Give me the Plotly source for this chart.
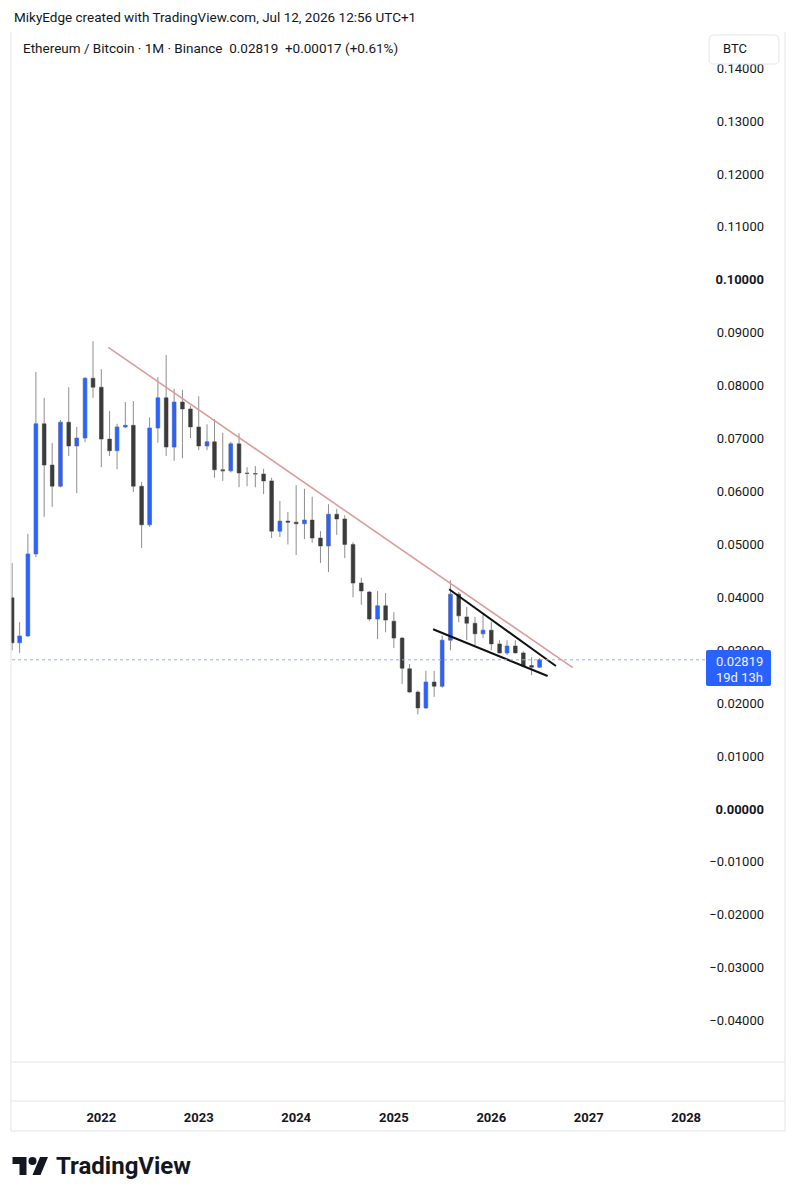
import plotly.graph_objects as go
import pandas as pd
from datetime import datetime, timedelta

# ---------------- data ----------------
months = pd.date_range("2021-02-01", periods=66, freq="MS")

opens = [
    0.0399, 0.0314, 0.0327, 0.0482, 0.0728, 0.0650, 0.0610, 0.0731, 0.0686, 0.0701, 0.0814,
    0.0797, 0.0699, 0.0677, 0.0722, 0.0725, 0.0610, 0.0537, 0.0720, 0.0777, 0.0684, 0.0769, 0.0756,
    0.0722, 0.0686, 0.0694, 0.0641, 0.0639, 0.0690, 0.0635, 0.0634, 0.0633, 0.0620, 0.0525, 0.0544,
    0.0542, 0.0539, 0.0546, 0.0512, 0.0497, 0.0557, 0.0548, 0.0500, 0.0427, 0.0410, 0.0359, 0.0384,
    0.0355, 0.0323, 0.0265, 0.0221, 0.0191, 0.0240, 0.0232, 0.0319, 0.0406, 0.0363, 0.0351, 0.0331,
    0.0338, 0.0312, 0.0295, 0.0308, 0.0295, 0.0271, 0.0268,
]
highs = [
    0.0465, 0.0353, 0.0520, 0.0826, 0.0777, 0.0692, 0.0735, 0.0797, 0.0722, 0.0816, 0.0884,
    0.0831, 0.0752, 0.0728, 0.0769, 0.0771, 0.0618, 0.0740, 0.0816, 0.0858, 0.0794, 0.0792, 0.0762,
    0.0780, 0.0727, 0.0737, 0.0711, 0.0694, 0.0710, 0.0646, 0.0648, 0.0643, 0.0626, 0.0582, 0.0561,
    0.0612, 0.0605, 0.0590, 0.0525, 0.0576, 0.0567, 0.0555, 0.0504, 0.0437, 0.0412, 0.0412, 0.0408,
    0.0372, 0.0325, 0.0274, 0.0224, 0.0261, 0.0261, 0.0328, 0.0432, 0.0410, 0.0382, 0.0363, 0.0367,
    0.0354, 0.0319, 0.0319, 0.0319, 0.0298, 0.0287, 0.0285,
]
lows = [
    0.0300, 0.0295, 0.0325, 0.0476, 0.0552, 0.0571, 0.0608, 0.0667, 0.0597, 0.0693, 0.0777,
    0.0646, 0.0667, 0.0642, 0.0720, 0.0599, 0.0493, 0.0533, 0.0692, 0.0667, 0.0658, 0.0663, 0.0701,
    0.0678, 0.0678, 0.0626, 0.0620, 0.0636, 0.0608, 0.0610, 0.0608, 0.0595, 0.0512, 0.0514, 0.0500,
    0.0480, 0.0510, 0.0503, 0.0465, 0.0448, 0.0518, 0.0474, 0.0400, 0.0386, 0.0355, 0.0321, 0.0334,
    0.0304, 0.0236, 0.0219, 0.0179, 0.0189, 0.0212, 0.0229, 0.0300, 0.0353, 0.0319, 0.0310, 0.0323,
    0.0300, 0.0294, 0.0291, 0.0294, 0.0268, 0.0253, 0.0267,
]
closes = [
    0.0314, 0.0327, 0.0482, 0.0728, 0.0650, 0.0610, 0.0731, 0.0686, 0.0701, 0.0814, 0.0797,
    0.0699, 0.0677, 0.0722, 0.0725, 0.0610, 0.0537, 0.0720, 0.0777, 0.0684, 0.0769, 0.0756, 0.0722,
    0.0686, 0.0694, 0.0641, 0.0639, 0.0690, 0.0635, 0.0634, 0.0633, 0.0620, 0.0525, 0.0544, 0.0542,
    0.0539, 0.0546, 0.0512, 0.0497, 0.0557, 0.0548, 0.0500, 0.0427, 0.0412, 0.0359, 0.0384, 0.0357,
    0.0323, 0.0266, 0.0221, 0.0191, 0.0240, 0.0232, 0.0319, 0.0406, 0.0365, 0.0351, 0.0331, 0.0338,
    0.0312, 0.0295, 0.0308, 0.0295, 0.0270, 0.0268, 0.02819,
]

year_ticks = ["2022-01-01", "2023-01-01", "2024-01-01", "2025-01-01",
              "2026-01-01", "2027-01-01", "2028-01-01"]
year_labels = ["2022", "2023", "2024", "2025", "2026", "2027", "2028"]
price_ticks = [-0.04, -0.03, -0.02, -0.01, 0.00, 0.01, 0.02, 0.03, 0.04, 0.05,
               0.06, 0.07, 0.08, 0.09, 0.10, 0.11, 0.12, 0.13, 0.14]
bold_ticks = [0.00, 0.10]

# drawn trend lines (date, price)
resistance_x = ["2022-01-27", "2026-11-02"]
resistance_y = [0.08725, 0.0267]
wedge_upper_x = ["2025-07-27", "2026-08-31"]
wedge_upper_y = [0.04152, 0.02702]
wedge_lower_x = ["2025-05-28", "2026-07-31"]
wedge_lower_y = [0.03396, 0.02513]

last_price = closes[-1]

# ---------------- layout geometry ----------------
W, H = 796, 1200
ML, MR, MT, MB = 11, 11, 32, 138
PW = W - ML - MR
PH = H - MT - MB


def px(x):
    return (x - ML) / PW


def py(y):
    return 1 - (y - MT) / PH


ref_date = datetime(2022, 1, 1)
ref_px = 101.3
px_per_day = 0.26694
x_left = ref_date + timedelta(days=(ML - ref_px) / px_per_day)
x_right = ref_date + timedelta(days=(W - MR - ref_px) / px_per_day)
y_bottom, y_top = -0.04781, 0.14683

UP = "#2962ff"
DOWN = "#3b3b3b"
WICK = "#8e8e8e"
TXT = "#131722"
BORDER = "#e0e3eb"

fig = go.Figure()

# wicks (gray)
fig.add_trace(go.Candlestick(
    x=months, open=opens, high=highs, low=lows, close=closes,
    increasing=dict(line=dict(color=WICK, width=1), fillcolor="rgba(0,0,0,0)"),
    decreasing=dict(line=dict(color=WICK, width=1), fillcolor="rgba(0,0,0,0)"),
    showlegend=False, hoverinfo="skip",
))
# bodies
fig.add_trace(go.Candlestick(
    x=months, open=opens, high=highs, low=lows, close=closes,
    increasing=dict(line=dict(color=UP, width=0), fillcolor=UP),
    decreasing=dict(line=dict(color=DOWN, width=0), fillcolor=DOWN),
    showlegend=False,
))

fig.add_trace(go.Scatter(x=resistance_x, y=resistance_y, mode="lines",
                         line=dict(color="#dc9c9c", width=1.6), showlegend=False, hoverinfo="skip"))
fig.add_trace(go.Scatter(x=wedge_upper_x, y=wedge_upper_y, mode="lines",
                         line=dict(color="#111111", width=2), showlegend=False, hoverinfo="skip"))
fig.add_trace(go.Scatter(x=wedge_lower_x, y=wedge_lower_y, mode="lines",
                         line=dict(color="#111111", width=2), showlegend=False, hoverinfo="skip"))


def fmt(v):
    s = f"{abs(v):.5f}"
    if v < -1e-12:
        s = "\u2212" + s
    if any(abs(v - b) < 1e-9 for b in bold_ticks):
        s = "<b>" + s + "</b>"
    return s


price_text = [fmt(v) for v in price_ticks]

shapes = []
# last price dotted line
shapes.append(dict(type="line", xref="paper", yref="y", x0=px(12), x1=px(705),
                   y0=last_price, y1=last_price,
                   line=dict(color="#9aaee0", width=1, dash="dot")))
# pane borders
for yy in [1062, 1101, 1131]:
    shapes.append(dict(type="line", xref="paper", yref="paper", x0=px(11), x1=px(785),
                       y0=py(yy), y1=py(yy), line=dict(color=BORDER, width=1)))
for xx in [11, 785]:
    shapes.append(dict(type="line", xref="paper", yref="paper", x0=px(xx), x1=px(xx),
                       y0=py(32), y1=py(1131), line=dict(color=BORDER, width=1)))


def rrect(x0, y0, x1, y1, r):
    pts = [
        f"M{px(x0 + r)},{py(y0)}",
        f"L{px(x1 - r)},{py(y0)}",
        f"Q{px(x1)},{py(y0)} {px(x1)},{py(y0 + r)}",
        f"L{px(x1)},{py(y1 - r)}",
        f"Q{px(x1)},{py(y1)} {px(x1 - r)},{py(y1)}",
        f"L{px(x0 + r)},{py(y1)}",
        f"Q{px(x0)},{py(y1)} {px(x0)},{py(y1 - r)}",
        f"L{px(x0)},{py(y0 + r)}",
        f"Q{px(x0)},{py(y0)} {px(x0 + r)},{py(y0)}",
        "Z",
    ]
    return " ".join(pts)


# BTC box
shapes.append(dict(type="path", xref="paper", yref="paper", path=rrect(709, 35, 779, 64, 5),
                   fillcolor="white", line=dict(color=BORDER, width=1)))
# price label box
shapes.append(dict(type="path", xref="paper", yref="paper", path=rrect(706, 650, 771, 686, 2),
                   fillcolor=UP, line=dict(color=UP, width=0)))

# TradingView logo mark (36x28 design units)
lx, ly, s = 12.5, 1153.0, 1.0


def lp(x, y):
    return f"{px(lx + x * s)},{py(ly + y * s)}"


logo_t = f"M{lp(0,4)} L{lp(14,4)} L{lp(14,22)} L{lp(7,22)} L{lp(7,11)} L{lp(0,11)} Z"
logo_p = f"M{lp(27.5,4)} L{lp(35.5,4)} L{lp(28,22)} L{lp(20,22)} Z"
shapes.append(dict(type="path", xref="paper", yref="paper", path=logo_t,
                   fillcolor=TXT, line=dict(width=0)))
shapes.append(dict(type="path", xref="paper", yref="paper", path=logo_p,
                   fillcolor=TXT, line=dict(width=0)))
shapes.append(dict(type="circle", xref="paper", yref="paper",
                   x0=px(lx + 16 * s), x1=px(lx + 24 * s), y0=py(ly + 4 * s), y1=py(ly + 12 * s),
                   fillcolor=TXT, line=dict(width=0)))

FONT = "Roboto"
annotations = [
    dict(text="MikyEdge created with TradingView.com, Jul 12, 2026 12:56 UTC+1",
         x=px(12), y=py(17), xref="paper", yref="paper", xanchor="left", yanchor="middle",
         showarrow=False, font=dict(family=FONT, size=13.5, color=TXT)),
    dict(text="Ethereum / Bitcoin · 1M · Binance  0.02819  +0.00017 (+0.61%)",
         x=px(21), y=py(48), xref="paper", yref="paper", xanchor="left", yanchor="middle",
         showarrow=False, font=dict(family=FONT, size=13.5, color=TXT)),
    dict(text="BTC", x=px(721), y=py(49), xref="paper", yref="paper", xanchor="left",
         yanchor="middle", showarrow=False, font=dict(family=FONT, size=13, color=TXT)),
    dict(text="0.02819", x=px(739), y=py(661), xref="paper", yref="paper", xanchor="center",
         yanchor="middle", showarrow=False, font=dict(family=FONT, size=13, color="#eef2ff")),
    dict(text="19d 13h", x=px(739), y=py(677), xref="paper", yref="paper", xanchor="center",
         yanchor="middle", showarrow=False, font=dict(family=FONT, size=13, color="#eef2ff")),
    dict(text="<b>TradingView</b>", x=px(54), y=py(1166), xref="paper", yref="paper",
         xanchor="left", yanchor="middle", showarrow=False,
         font=dict(family=FONT, size=24, color=TXT)),
]

fig.update_layout(
    width=W, height=H,
    margin=dict(l=ML, r=MR, t=MT, b=MB),
    paper_bgcolor="white", plot_bgcolor="white",
    shapes=shapes, annotations=annotations,
    showlegend=False,
    font=dict(family=FONT, color=TXT),
    xaxis=dict(
        type="date", range=[x_left, x_right], rangeslider=dict(visible=False),
        tickvals=year_ticks, ticktext=year_labels,
        tickfont=dict(family=FONT, size=13, color=TXT, weight="bold"),
        showgrid=False, zeroline=False, showline=False, ticks="",
        ticklabelstandoff=46,
    ),
    yaxis=dict(
        range=[y_bottom, y_top], side="right",
        tickvals=price_ticks, ticktext=price_text,
        ticklabelposition="inside", ticklabelstandoff=18,
        tickfont=dict(family=FONT, size=13, color=TXT),
        showgrid=False, zeroline=False, showline=False, ticks="",
    ),
)

fig.write_html("out.html")
